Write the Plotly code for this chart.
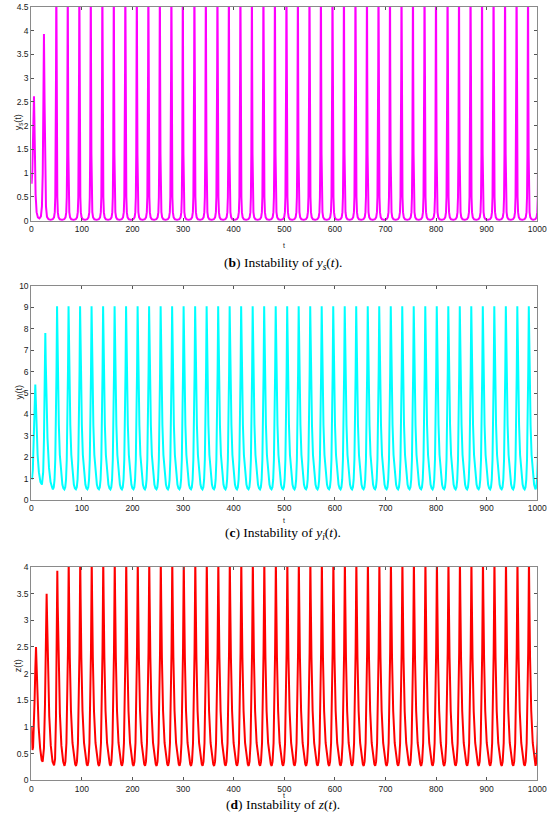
import plotly.graph_objects as go
from plotly.subplots import make_subplots

# peak times of y_s (regular cycles); last one sits just past t=1000
ys_peaks = [49.4, 72.1, 94.9, 117.6, 140.4, 163.1, 185.8, 208.6, 231.3, 254.1,
            276.8, 299.5, 322.3, 345.0, 367.8, 390.5, 413.2, 436.0, 458.7, 481.5,
            504.2, 526.9, 549.7, 572.4, 595.2, 617.9, 640.6, 663.4, 686.1, 708.9,
            731.6, 754.3, 777.1, 799.8, 822.6, 845.3, 868.0, 890.8, 913.5, 936.3,
            959.0, 981.7, 1003.0]
yi_lag = 1.5   # y_i peaks trail y_s by about this
z_lag = 1.8    # z peaks trail y_s by about this

# start-up transients (before the regular cycles)
ys_t0 = [0, 0.6, 2, 3.5, 4.6, 5.3, 6.0, 7, 8.5, 10.5, 13, 16, 19, 21, 22.6, 23.8,
         25, 26.2, 27.4, 29, 31, 34]
ys_v0 = [1.0, 0.78, 1.05, 1.7, 2.3, 2.62, 2.2, 1.3, 0.55, 0.18, 0.07, 0.05, 0.09,
         0.3, 1.0, 2.4, 3.93, 2.5, 1.0, 0.3, 0.08, 0.03]
yi_t0 = [0, 1.5, 3, 4.5, 6, 7.9, 9, 10.5, 12.5, 15, 18, 21, 23.5, 25, 26.5, 27.7,
         28.6, 30, 32, 35, 38, 41]
yi_v0 = [1.0, 1.0, 1.4, 2.4, 3.8, 5.4, 4.6, 3.3, 2.1, 1.3, 0.85, 0.72, 1.3, 2.8,
         5.0, 7.8, 6.4, 4.6, 2.9, 1.5, 0.85, 0.6]
z_t0 = [0, 1, 2.2, 3.5, 5, 6.5, 8, 9.3, 10.3, 12, 14.5, 17.5, 20.5, 22.5, 25, 27,
        28.8, 30.3, 31.3, 33, 35.5, 38.5, 42, 45, 47, 48.8, 50.5, 51.4, 52.3, 54,
        56.5, 59.5, 63]
z_v0 = [1.0, 0.7, 0.57, 0.62, 0.95, 1.5, 2.1, 2.5, 2.2, 1.6, 1.0, 0.6, 0.38, 0.35,
        0.6, 1.4, 2.6, 3.5, 3.0, 2.0, 1.2, 0.65, 0.35, 0.28, 0.4, 1.2, 2.9, 3.93,
        3.25, 2.2, 1.25, 0.65, 0.35]

# one regular cycle of each curve: offset from its peak -> value
ys_off = [-11.3, -7, -4.5, -3, -2, -1.2, -0.5, 0, 0.5, 1.2, 2, 3, 4.5, 7, 11.3]
ys_val = [0.015, 0.03, 0.07, 0.18, 0.5, 1.4, 3.2, 5.2, 3.2, 1.4, 0.5, 0.18, 0.07, 0.03, 0.015]
yi_off = [-8.25, -6.5, -5, -3.5, -2.2, -1.1, 0, 0.8, 2, 3.5, 5.5, 8, 10.5, 12.5, 14.5]
yi_val = [0.5, 0.6, 0.95, 1.9, 3.6, 6.0, 9.05, 7.3, 5.2, 3.5, 2.1, 1.15, 0.72, 0.55, 0.5]
z_off = [-8.25, -6.5, -4.5, -3, -1.5, -0.6, 0, 0.8, 2.2, 4.5, 7.5, 10.5, 12.8, 14.5]
z_val = [0.27, 0.35, 0.7, 1.3, 2.4, 3.4, 4.15, 3.4, 2.3, 1.3, 0.7, 0.42, 0.3, 0.27]


def build(t0, v0, peaks, off, val):
    t, v = list(t0), list(v0)
    for p in peaks:
        for o, y in zip(off[:-1], val[:-1]):
            t.append(p + o)
            v.append(y)
    return t, v


ys_t, ys_v = build(ys_t0, ys_v0, ys_peaks, ys_off, ys_val)
yi_t, yi_v = build(yi_t0, yi_v0, [p + yi_lag for p in ys_peaks], yi_off, yi_val)
z_t, z_v = build(z_t0, z_v0, [p + z_lag for p in ys_peaks[1:]], z_off, z_val)

fig = make_subplots(rows=3, cols=1)
fig.add_trace(go.Scatter(x=ys_t, y=ys_v, mode='lines', line=dict(color='#ff00ff', width=2)), row=1, col=1)
fig.add_trace(go.Scatter(x=yi_t, y=yi_v, mode='lines', line=dict(color='#00ffff', width=2)), row=2, col=1)
fig.add_trace(go.Scatter(x=z_t, y=z_v, mode='lines', line=dict(color='#ff0000', width=2)), row=3, col=1)

W, H = 550, 831
xdom = [31.3 / W, 537.3 / W]
panels = [(7, 220.7), (286, 500), (567, 780.3)]  # top / bottom pixel rows
ranges = [[0, 4.5], [0, 10], [0, 4]]
dticks = [0.5, 1, 0.5]
ylabels = ['y<sub>s</sub>(t)', 'y<sub>i</sub>(t)', 'z(t)']
captions = ['(<b>b</b>) Instability of <i>y<sub>s</sub></i>(<i>t</i>).',
            '(<b>c</b>) Instability of <i>y<sub>i</sub></i>(<i>t</i>).',
            '(<b>d</b>) Instability of <i>z</i>(<i>t</i>).']

tickfont = dict(family='Liberation Sans', size=8.5, color='#1a1a1a')
axstyle = dict(showgrid=False, zeroline=False, ticks='inside', ticklen=3,
               tickcolor='#555555', showline=True, linecolor='#8a8a8a', linewidth=1,
               mirror='ticks', tickfont=tickfont, ticklabeloverflow='allow',
               automargin=False)

for i, (top, bot) in enumerate(panels):
    n = '' if i == 0 else str(i + 1)
    fig.layout['xaxis' + n].update(domain=xdom, range=[0, 1000], tick0=0, dtick=100,
                                   **axstyle)
    fig.layout['yaxis' + n].update(domain=[1 - bot / H, 1 - top / H], range=ranges[i],
                                   tick0=0, dtick=dticks[i], **axstyle)
    fig.add_annotation(text=ylabels[i], xref='paper', yref='paper', x=12 / W,
                       y=1 - (top + bot) / 2 / H, textangle=-90, showarrow=False,
                       borderpad=0,
                       font=dict(family='Liberation Sans', size=9, color='#1a1a1a'))
    fig.add_annotation(text='t', xref='paper', yref='paper', x=284 / W,
                       y=1 - (bot + 20) / H, showarrow=False, borderpad=0,
                       font=dict(family='Liberation Sans', size=7, color='#1a1a1a'))
    fig.add_annotation(text=captions[i], xref='paper', yref='paper', x=283 / W,
                       y=1 - (bot + 33) / H, showarrow=False, borderpad=0,
                       font=dict(family='Liberation Serif', size=13.5, color='black'))

fig.update_layout(width=W, height=H, margin=dict(l=0, r=0, t=0, b=0, pad=0, autoexpand=False),
                  showlegend=False, plot_bgcolor='white', paper_bgcolor='white')
fig.write_html('out.html', config={'displayModeBar': False})

# drop the browser's default body margin (and any scrollbar) so the figure fills the window
with open('out.html') as f:
    page = f.read()
page = page.replace('<body>', '<body style="margin:0;overflow:hidden">', 1)
with open('out.html', 'w') as f:
    f.write(page)
